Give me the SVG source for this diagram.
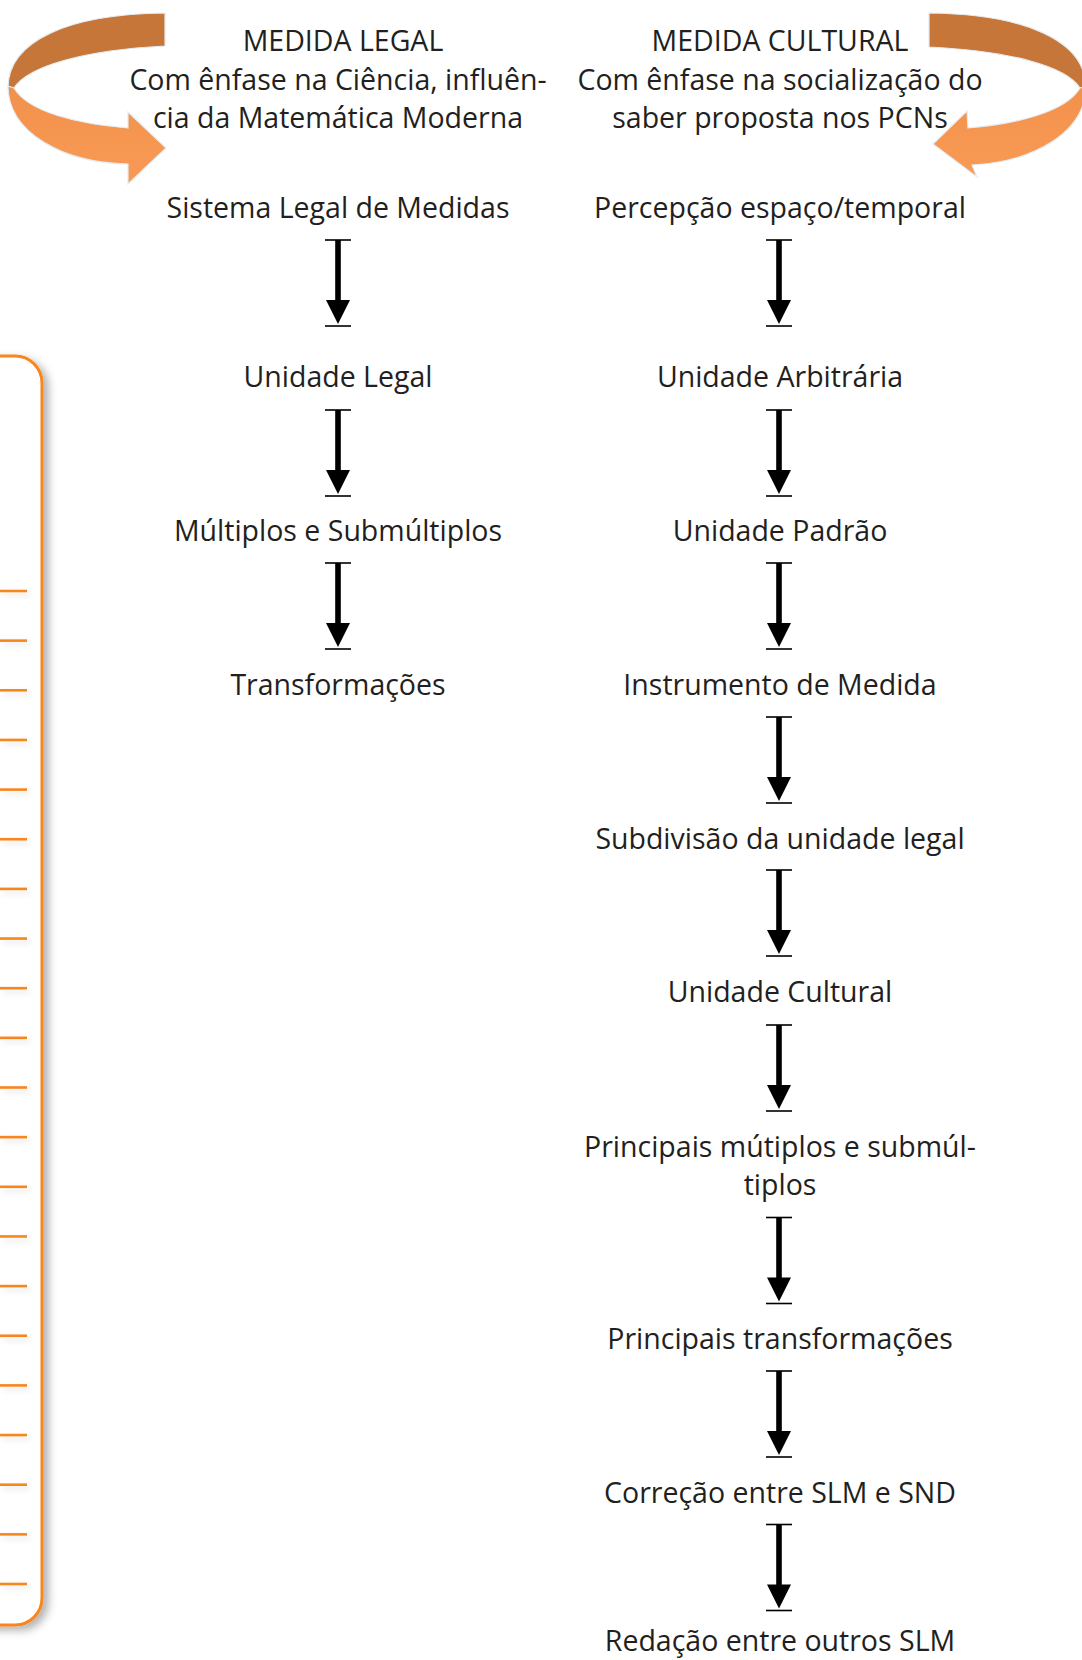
<svg xmlns="http://www.w3.org/2000/svg" xmlns:xlink="http://www.w3.org/1999/xlink" width="1082" height="1660" viewBox="0 0 1082 1660">
<style>
  .t { font-family: "Open Sans", "Noto Sans", "Liberation Sans", sans-serif; font-size: 28.5px; fill: #231f20; text-anchor: middle; }
  .bar { stroke: #000; stroke-width: 1.6; }
  .tick { stroke: #f7861f; stroke-width: 2.6; }
  .dark { fill: #c7763a; stroke: #e4ecf2; stroke-width: 1.2; }
  .light { fill: url(#lg); stroke: #e4ecf2; stroke-width: 1.2; }
</style>
<defs>
  <linearGradient id="lg" x1="0" y1="0" x2="0" y2="1">
    <stop offset="0" stop-color="#f2914c"/>
    <stop offset="1" stop-color="#f89a55"/>
  </linearGradient>
  <filter id="sh" x="-50%" y="-5%" width="200%" height="110%">
    <feDropShadow dx="5" dy="4" stdDeviation="4" flood-color="#000" flood-opacity="0.3"/>
  </filter>
  <filter id="sh2" x="-20%" y="-100%" width="140%" height="400%">
    <feDropShadow dx="3" dy="3" stdDeviation="3" flood-color="#000" flood-opacity="0.12"/>
  </filter>
  <g id="arr">
    <line class="bar" x1="-13" y1="0" x2="13" y2="0"/>
    <rect x="-2.8" y="0" width="5.6" height="62" fill="#000"/>
    <polygon points="-12,60 12,60 0,84" fill="#000"/>
    <line class="bar" x1="-13" y1="86" x2="13" y2="86"/>
  </g>
</defs>
<rect width="1082" height="1660" fill="#fff"/>

<!-- left orange ruled box -->
<g id="ruled-box">
  <rect x="-60" y="356" width="102" height="1269" rx="27" fill="#fff" stroke="#f7861f" stroke-width="3" filter="url(#sh)"/>
  <g filter="url(#sh2)">
    <line class="tick" x1="0" y1="591" x2="27" y2="591"/>
    <line class="tick" x1="0" y1="640.65" x2="27" y2="640.65"/>
    <line class="tick" x1="0" y1="690.3" x2="27" y2="690.3"/>
    <line class="tick" x1="0" y1="739.95" x2="27" y2="739.95"/>
    <line class="tick" x1="0" y1="789.6" x2="27" y2="789.6"/>
    <line class="tick" x1="0" y1="839.25" x2="27" y2="839.25"/>
    <line class="tick" x1="0" y1="888.9" x2="27" y2="888.9"/>
    <line class="tick" x1="0" y1="938.55" x2="27" y2="938.55"/>
    <line class="tick" x1="0" y1="988.2" x2="27" y2="988.2"/>
    <line class="tick" x1="0" y1="1037.85" x2="27" y2="1037.85"/>
    <line class="tick" x1="0" y1="1087.5" x2="27" y2="1087.5"/>
    <line class="tick" x1="0" y1="1137.15" x2="27" y2="1137.15"/>
    <line class="tick" x1="0" y1="1186.8" x2="27" y2="1186.8"/>
    <line class="tick" x1="0" y1="1236.45" x2="27" y2="1236.45"/>
    <line class="tick" x1="0" y1="1286.1" x2="27" y2="1286.1"/>
    <line class="tick" x1="0" y1="1335.75" x2="27" y2="1335.75"/>
    <line class="tick" x1="0" y1="1385.4" x2="27" y2="1385.4"/>
    <line class="tick" x1="0" y1="1435.05" x2="27" y2="1435.05"/>
    <line class="tick" x1="0" y1="1484.7" x2="27" y2="1484.7"/>
    <line class="tick" x1="0" y1="1534.35" x2="27" y2="1534.35"/>
    <line class="tick" x1="0" y1="1584" x2="27" y2="1584"/>
  </g>
</g>

<!-- curved arrows -->
<g id="curve-left">
  <path class="dark" d="M165,13 C70,14 8,40 8,88 L14,88 C28,66 85,50 165,46 Z"/>
  <path class="light" d="M8,86 C8,132 62,163 128,164 L128,184 L166,148 L128,112 L128,128 C78,124 28,112 14,88 Z"/>
</g>
<g id="curve-right">
  <path class="dark" d="M929,13 C1024,14 1086,40 1086,88 L1080,88 C1066,66 1010,51 929,47 Z"/>
  <path class="light" d="M1086,86 C1086,132 1034,162 972,165 L977,177 L933,144 L967,111 L968,128 C1016,124 1066,112 1080,88 Z"/>
</g>

<!-- headers -->
<g id="header-legal">
  <text class="t" x="343" y="51">MEDIDA LEGAL</text>
  <text class="t" x="338" y="90">Com ênfase na Ciência, influên-</text>
  <text class="t" x="338" y="128">cia da Matemática Moderna</text>
</g>
<g id="header-cultural">
  <text class="t" x="780" y="51">MEDIDA CULTURAL</text>
  <text class="t" x="780" y="90">Com ênfase na socialização do</text>
  <text class="t" x="780" y="128">saber proposta nos PCNs</text>
</g>

<!-- left column nodes -->
<g id="n-sistema"><text class="t" x="338" y="218">Sistema Legal de Medidas</text></g>
<g id="n-unidade-legal"><text class="t" x="338" y="387">Unidade Legal</text></g>
<g id="n-multiplos"><text class="t" x="338" y="541">Múltiplos e Submúltiplos</text></g>
<g id="n-transformacoes"><text class="t" x="338" y="695">Transformações</text></g>

<!-- right column nodes -->
<g id="n-percepcao"><text class="t" x="780" y="218">Percepção espaço/temporal</text></g>
<g id="n-arbitraria"><text class="t" x="780" y="387">Unidade Arbitrária</text></g>
<g id="n-padrao"><text class="t" x="780" y="541">Unidade Padrão</text></g>
<g id="n-instrumento"><text class="t" x="780" y="695">Instrumento de Medida</text></g>
<g id="n-subdivisao"><text class="t" x="780" y="849">Subdivisão da unidade legal</text></g>
<g id="n-cultural"><text class="t" x="780" y="1002">Unidade Cultural</text></g>
<g id="n-principais-mult">
  <text class="t" x="780" y="1157">Principais mútiplos e submúl-</text>
  <text class="t" x="780" y="1195">tiplos</text>
</g>
<g id="n-principais-transf"><text class="t" x="780" y="1349">Principais transformações</text></g>
<g id="n-correcao"><text class="t" x="780" y="1503">Correção entre SLM e SND</text></g>
<g id="n-redacao"><text class="t" x="780" y="1651">Redação entre outros SLM</text></g>

<!-- connectors -->
<g id="connectors">
  <use xlink:href="#arr" x="338" y="240"/>
  <use xlink:href="#arr" x="338" y="410"/>
  <use xlink:href="#arr" x="338" y="563"/>
  <use xlink:href="#arr" x="779" y="240"/>
  <use xlink:href="#arr" x="779" y="410"/>
  <use xlink:href="#arr" x="779" y="563"/>
  <use xlink:href="#arr" x="779" y="717"/>
  <use xlink:href="#arr" x="779" y="870"/>
  <use xlink:href="#arr" x="779" y="1025"/>
  <use xlink:href="#arr" x="779" y="1217.5"/>
  <use xlink:href="#arr" x="779" y="1371"/>
  <use xlink:href="#arr" x="779" y="1524.5"/>
</g>
</svg>
